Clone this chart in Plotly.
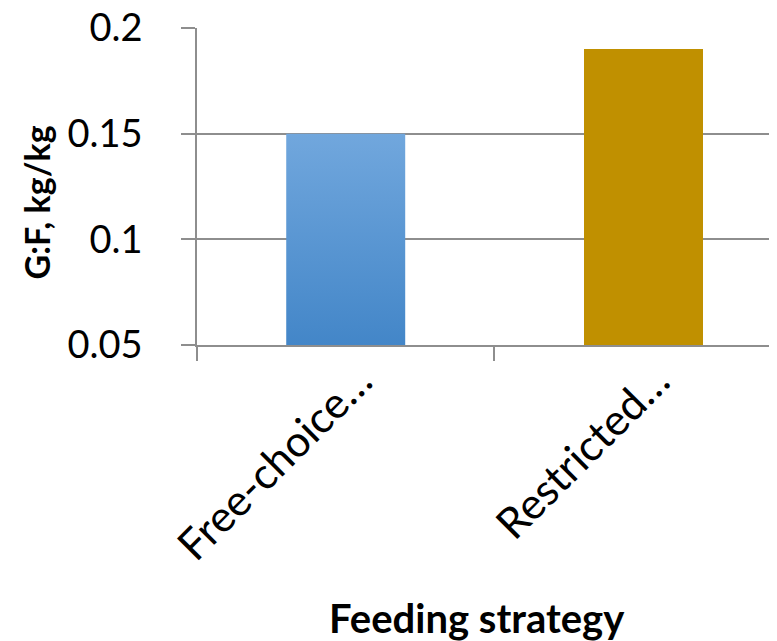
import plotly.graph_objects as go

# ---- data ----
categories = ["Free-choice…", "Restricted…"]
gf_values = [0.15, 0.19]
y_ticks = [0.05, 0.1, 0.15, 0.2]
y_range = [0.05, 0.2]
x_title = "Feeding strategy"
y_title = "G:F, kg/kg"

# ---- style ----
FONT = "Lato"
GRID = "#8e8e8e"
bar_width = 0.4
x_pos = list(range(len(categories)))
x_range = [-0.5, 1.45]
boundaries = [p - 0.5 for p in x_pos]

fig = go.Figure()

# first bar: vertical gradient fill (drawn as a filled rectangle from data)
x0 = x_pos[0]
h = bar_width / 2
fig.add_trace(go.Scatter(
    x=[x0 - h, x0 + h, x0 + h, x0 - h, x0 - h],
    y=[y_range[0], y_range[0], gf_values[0], gf_values[0], y_range[0]],
    mode="lines", fill="toself", line=dict(width=0, color="rgba(0,0,0,0)"),
    fillgradient=dict(type="vertical",
                      colorscale=[[0, "#4386c8"], [1, "#71a7dd"]]),
    hoverinfo="skip", showlegend=False,
))

# second bar: solid gold
fig.add_trace(go.Bar(
    x=[x_pos[1]], y=[gf_values[1]], width=bar_width,
    marker=dict(color="#c09000", line=dict(width=0)),
    showlegend=False,
))

# invisible trace to carry the boundary-tick axis
fig.add_trace(go.Scatter(x=[x_pos[0]], y=[y_range[0]], xaxis="x2",
                         mode="markers", marker=dict(opacity=0),
                         hoverinfo="skip", showlegend=False))

fig.update_layout(
    width=777, height=641,
    margin=dict(l=189, r=8, t=20, b=304, autoexpand=False),
    paper_bgcolor="white", plot_bgcolor="white",
    font=dict(family=FONT, color="black", size=40),
    xaxis=dict(
        range=x_range, tickmode="array", tickvals=x_pos, ticktext=categories,
        tickangle=-45, ticks="", showgrid=False, zeroline=False,
        showline=True, linecolor=GRID, linewidth=1.5,
        tickfont=dict(family=FONT, size=43, color="black"),
        ticklabelshift=14, ticklabelstandoff=-8,
        automargin=False,
    ),
    xaxis2=dict(
        range=x_range, overlaying="x", side="bottom", tickmode="array",
        tickvals=boundaries, ticks="outside", ticklen=15, tickwidth=1.5,
        tickcolor=GRID, showticklabels=False, showgrid=False,
        zeroline=False, showline=False, automargin=False,
    ),
    yaxis=dict(
        range=y_range, tickmode="array", tickvals=y_ticks,
        ticks="outside", ticklen=14, tickwidth=1.5, tickcolor=GRID,
        showgrid=True, gridcolor=GRID, gridwidth=1.5, zeroline=False,
        showline=True, linecolor=GRID, linewidth=1.5,
        tickfont=dict(family=FONT, size=38, color="black"),
        ticklabelstandoff=31, ticklabeloverflow="allow",
        automargin=False,
    ),
    annotations=[
        dict(text="<b>" + x_title + "</b>", xref="paper", yref="paper",
             x=0.483, y=0, xanchor="center", yanchor="top", yshift=-247,
             showarrow=False, font=dict(family=FONT, size=40, color="black")),
        dict(text="<b>" + y_title + "</b>", xref="paper", yref="paper",
             x=0, y=0.5, xanchor="center", yanchor="middle", xshift=-161,
             yshift=-16, textangle=-90, showarrow=False,
             font=dict(family=FONT, size=34, color="black")),
    ],
    bargap=0,
)

fig.write_html("out.html")
